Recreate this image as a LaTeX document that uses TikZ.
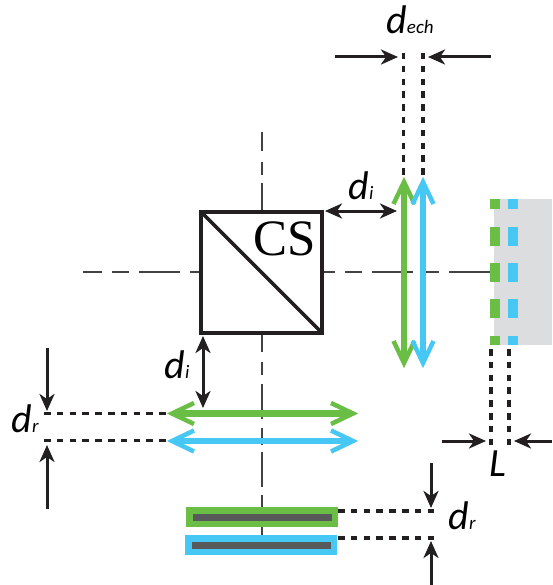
\documentclass[tikz,border=0pt]{standalone}
\usepackage{fontspec}
\setmainfont{Carlito}
\newfontfamily\csfont{Liberation Serif}
\usetikzlibrary{arrows.meta}
\definecolor{cgreen}{HTML}{6ABD45}
\definecolor{cblue}{HTML}{47C8F4}
\definecolor{cblack}{HTML}{231F20}
\definecolor{cgrey}{HTML}{DCDDDF}
\definecolor{cdark}{HTML}{58595B}
\newcommand{\dimlab}[2]{{\fontsize{40}{40}\selectfont\itshape #1\fontsize{19}{19}\selectfont\itshape #2}}
\tikzset{
  axisline/.style={draw=cblack!85,line width=1.2pt},
  dimarrow/.style={draw=cblack,line width=3pt,-{Stealth[length=17pt,width=15pt,inset=5pt]}},
  dimboth/.style={draw=cblack,line width=3pt,{Stealth[length=17pt,width=15pt,inset=5pt]}-{Stealth[length=17pt,width=15pt,inset=5pt]}},
  dotline/.style={draw=cblack,line width=3.5pt,dash pattern=on 6.5pt off 6.3pt},
  beam/.style={line width=6.5pt,shorten >=8pt,shorten <=8pt},
  tipmark/.pic={\draw[line width=4.5pt,miter limit=10] (-10.5,27)--(0,5)--(10.5,27);},
  mirror/.style={draw=none,minimum height=20pt,minimum width=152pt,inner sep=0pt,fill=#1},
  mirrorcore/.style={draw=none,fill=cdark,minimum height=7pt,minimum width=139pt,inner sep=0pt},
  grat/.style={draw=none,fill=#1,inner sep=0pt,minimum width=10pt},
  lab/.style={inner sep=0pt,text=black},
}
\begin{document}
\begin{tikzpicture}[x=1pt,y=-1pt]
\useasboundingbox (0,0) rectangle (552,585);
% sample
\fill[cgrey] (494,199) rectangle (552,345);
% axes
\foreach \a/\b in {83/102,112/129,139/180,190/200,323/335,345/362,372/413,426/439,449/490}
  \draw[axisline] (\a,272) -- (\b,272);
\foreach \a/\b in {132/151,162/175,183/211,334/352,362/375,384/419,428/445,452/487,495/508,527/535}
  \draw[axisline] (262,\a) -- (262,\b);
% grating
\foreach \n/\a/\b in {1/199/209,2/227/246,3/263/282,4/299/318,5/336/345}{
  \node[grat=cgreen,minimum height={\b-\a},anchor=north west] (g\n) at (489.5,\a) {};
  \node[grat=cblue,minimum height={\b-\a},anchor=north west] (b\n) at (508,\a) {};
}
% cube
\node[draw=cblack,line width=4pt,minimum size=121pt,inner sep=0pt,outer sep=0pt] (cs) at (261.2,272) {};
\draw[cblack,line width=3.5pt] (cs.north west) -- (cs.south east);
\node[lab,font=\csfont\fontsize{51}{51}\selectfont] (cstext) at (285,239) {CS};
% dotted lines
\coordinate (e1) at (403.5,53); \coordinate (e2) at (403.5,177);
\coordinate (e3) at (423,53); \coordinate (e4) at (423,177);
\draw[dotline] (e1) -- (e2);
\draw[dotline] (e3) -- (e4);
\coordinate (l1) at (491,349); \coordinate (l2) at (491,446);
\coordinate (l3) at (509,349); \coordinate (l4) at (509,446);
\draw[dotline] (l1) -- (l2);
\draw[dotline] (l3) -- (l4);
\coordinate (d1) at (44,413.5); \coordinate (d2) at (167,413.5);
\coordinate (d3) at (44,440.5); \coordinate (d4) at (167,440.5);
\draw[dotline] (d1) -- (d2);
\draw[dotline] (d3) -- (d4);
\coordinate (m1) at (338,511); \coordinate (m2) at (435,511);
\coordinate (m3) at (338,538); \coordinate (m4) at (435,538);
\draw[dotline] (m1) -- (m2);
\draw[dotline] (m3) -- (m4);
% beams
\coordinate (bv1a) at (404,177); \coordinate (bv1b) at (404,368);
\coordinate (bv2a) at (423,177); \coordinate (bv2b) at (423,368);
\coordinate (bh1a) at (167,413.5); \coordinate (bh1b) at (358,413.5);
\coordinate (bh2a) at (167,441); \coordinate (bh2b) at (358,441);
\draw[beam,draw=cgreen] (bv1a) -- (bv1b);
\pic[color=cgreen] at (bv1a) {tipmark};
\pic[color=cgreen,rotate=180] at (bv1b) {tipmark};
\draw[beam,draw=cblue] (bv2a) -- (bv2b);
\pic[color=cblue] at (bv2a) {tipmark};
\pic[color=cblue,rotate=180] at (bv2b) {tipmark};
\draw[beam,draw=cgreen] (bh1a) -- (bh1b);
\pic[color=cgreen,rotate=90] at (bh1a) {tipmark};
\pic[color=cgreen,rotate=-90] at (bh1b) {tipmark};
\draw[beam,draw=cblue] (bh2a) -- (bh2b);
\pic[color=cblue,rotate=90] at (bh2a) {tipmark};
\pic[color=cblue,rotate=-90] at (bh2b) {tipmark};
% mirrors
\node[mirror=cgreen,anchor=north west] (mg) at (186,507) {};
\node[mirrorcore] (mgc) at (mg.center) {};
\node[mirror=cblue,anchor=north west] (mb) at (185,535) {};
\node[mirrorcore] (mbc) at (mb.center) {};
% dimension arrows
\coordinate (a1) at (335,57); \coordinate (a2) at (398,57);
\coordinate (a3) at (491,57); \coordinate (a4) at (428,57);
\draw[dimarrow] (a1) -- (a2);
\draw[dimarrow] (a3) -- (a4);
\coordinate (a5) at (325,211); \coordinate (a6) at (397,211);
\draw[dimboth] (a5) -- (a6);
\coordinate (a7) at (203,336); \coordinate (a8) at (203,408);
\draw[dimboth] (a7) -- (a8);
\coordinate (a9) at (442,441); \coordinate (a10) at (486,441);
\coordinate (a11) at (552,441); \coordinate (a12) at (514,441);
\draw[dimarrow] (a9) -- (a10);
\draw[dimarrow] (a11) -- (a12);
\coordinate (a13) at (47,348); \coordinate (a14) at (47,411);
\coordinate (a15) at (47,509); \coordinate (a16) at (47,445);
\draw[dimarrow] (a13) -- (a14);
\draw[dimarrow] (a15) -- (a16);
\coordinate (a17) at (431,463); \coordinate (a18) at (431,508);
\coordinate (a19) at (431,585); \coordinate (a20) at (431,541);
\draw[dimarrow] (a17) -- (a18);
\draw[dimarrow] (a19) -- (a20);
% labels
\node[lab] (tdech) at (410,20) {\dimlab{d}{ech}};
\node[lab] (tdi1) at (361,186) {\dimlab{d}{i}};
\node[lab] (tdi2) at (177,365) {\dimlab{d}{i}};
\node[lab] (tdr1) at (25,419) {\dimlab{d}{r}};
\node[lab] (tdr2) at (462,516) {\dimlab{d}{r}};
\node[lab] (tl) at (498,464) {\fontsize{40}{40}\selectfont\itshape L};
\end{tikzpicture}
\end{document}
